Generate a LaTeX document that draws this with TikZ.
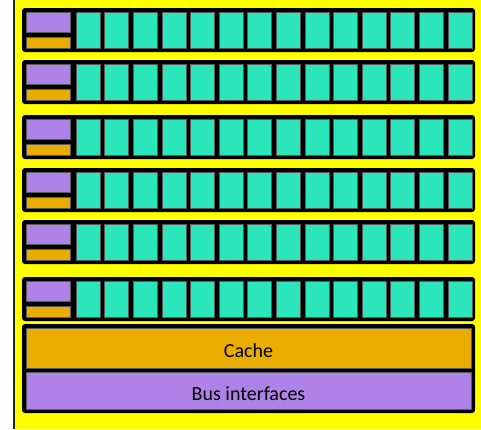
\documentclass[tikz,border=0pt]{standalone}
\usepackage{fontspec}
\setmainfont{Carlito}
\usetikzlibrary{positioning}

\definecolor{corepurple}{HTML}{AE82E6}
\definecolor{coreorange}{HTML}{E9AD00}
\definecolor{coreteal}{HTML}{2AE6BA}
\definecolor{coreyellow}{HTML}{FFFF00}

\tikzset{
    rowbox/.style={fill=black, rounded corners=3pt, anchor=north west, inner sep=0pt, outer sep=0pt, minimum width=453pt, minimum height=44pt},
    unitbox/.style={draw=black!65, line width=0.6pt, anchor=north west, inner sep=0pt, outer sep=0pt},
    regbox/.style={unitbox, fill=corepurple, minimum width=44pt, minimum height=20pt},
    ctlbox/.style={unitbox, fill=coreorange, minimum width=44pt, minimum height=11pt},
    alubox/.style={unitbox, fill=coreteal, minimum width=24pt, minimum height=36pt},
    membox/.style={unitbox, minimum width=445pt, font=\fontsize{20}{24}\selectfont, text height=19pt, text depth=0pt}
}

\begin{document}
\begin{tikzpicture}[x=1pt, y=-1pt]
    \useasboundingbox (0,0) rectangle (481,429);
    \fill[coreyellow] (15,0) rectangle (481,429);
    \draw[line width=2pt, black!85] (13.5,0) -- (13.5,429);
    % six rows of cores
    \foreach \r/\top in {1/8, 2/60, 3/115, 4/168, 5/220, 6/277} {
        \node[rowbox] (row\r) at (22,\top) {};
        \node[regbox] (reg\r) at (26,\top+4) {};
        \node[ctlbox] (ctl\r) at (26,\top+29) {};
        \foreach \k in {0,...,13}
            \node[alubox] (alu\r-\k) at (76+28.6*\k,\top+4) {};
    }
    % cache and bus
    \node[rowbox, minimum height=89pt] (mem) at (22,324) {};
    \node[membox, fill=coreorange, minimum height=40pt] (cache) at (26,328) {Cache};
    \node[membox, fill=corepurple, minimum height=37pt, below=4pt of cache.south west, anchor=north west] (bus) {Bus interfaces};
\end{tikzpicture}
\end{document}
